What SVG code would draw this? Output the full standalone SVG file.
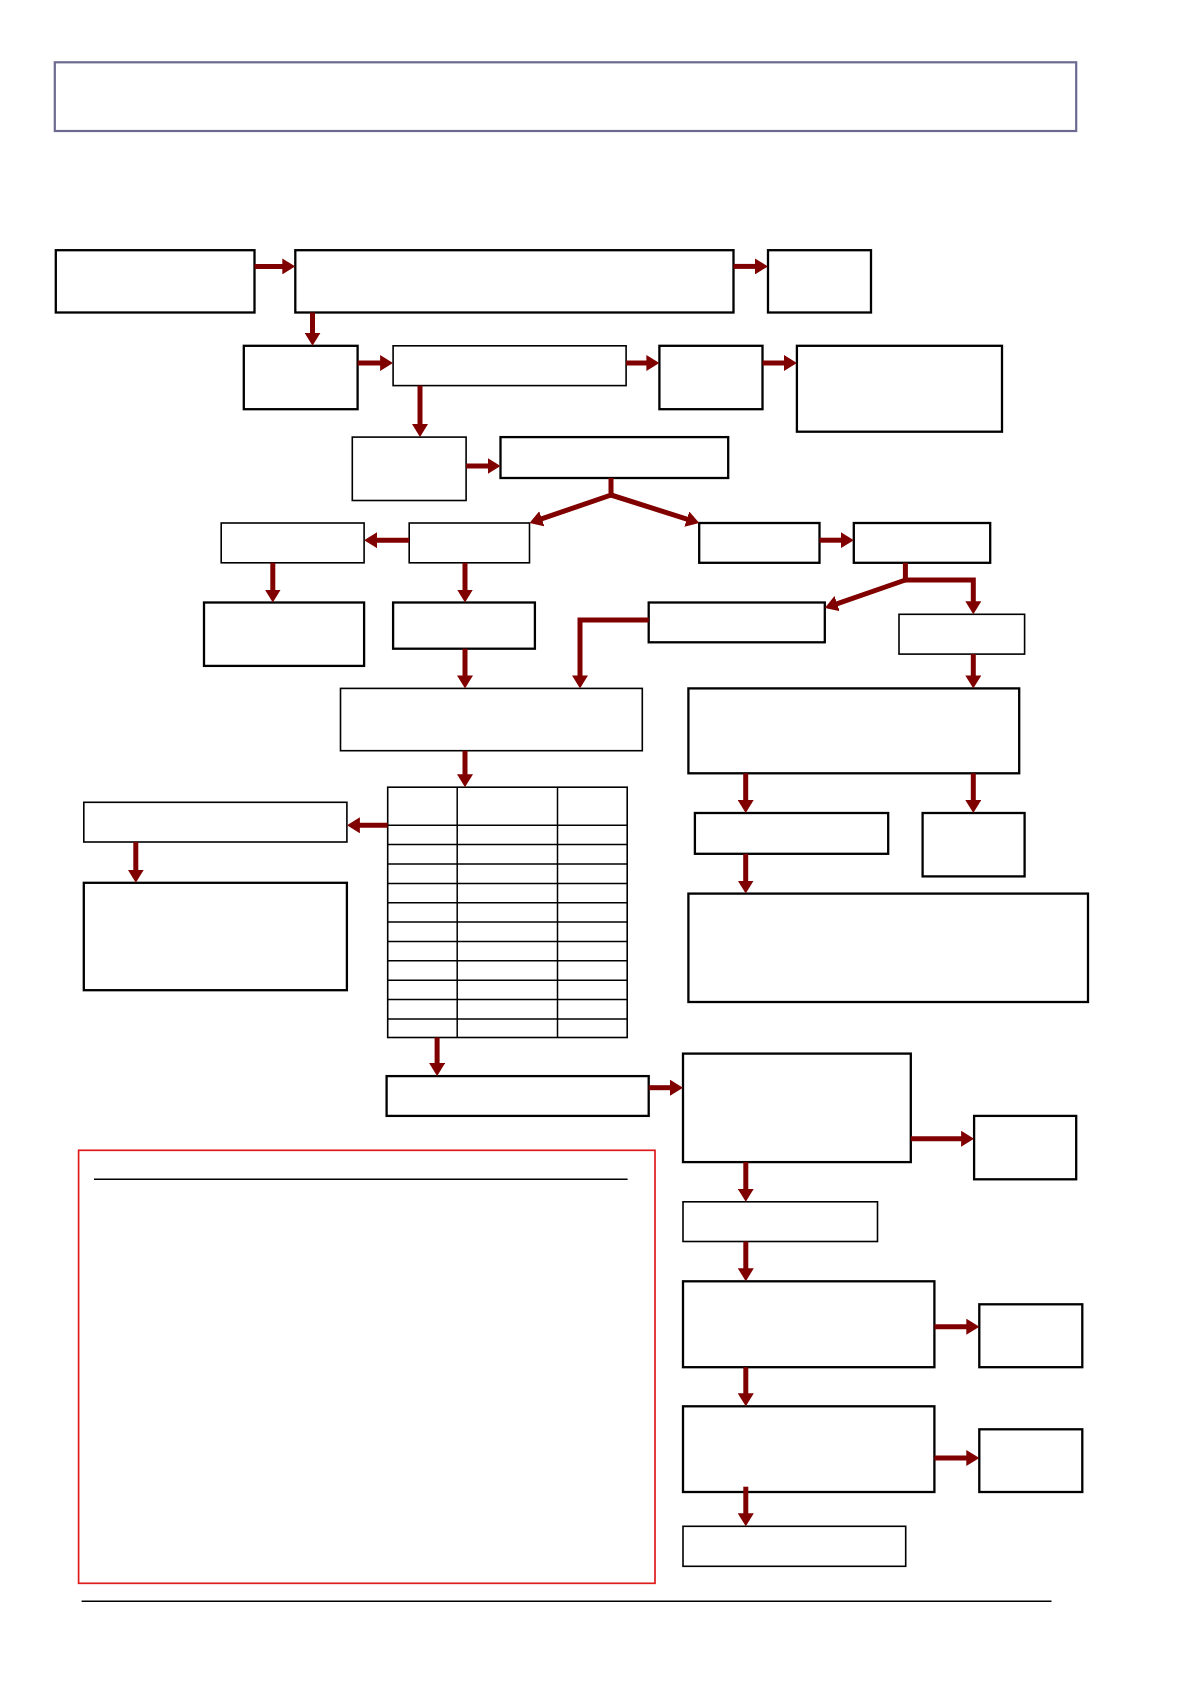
<svg xmlns="http://www.w3.org/2000/svg" width="1190" height="1684" viewBox="0 0 1190 1684">
<style>
.b{fill:#fff;stroke:#000;stroke-width:2.3}
.t{fill:#fff;stroke:#000;stroke-width:1.6}
.c{fill:none;stroke:#800000;stroke-width:5;marker-end:url(#ah)}
.tl{stroke:#000;stroke-width:1.5}
</style>
<defs>
<marker id="ah" markerUnits="userSpaceOnUse" markerWidth="13" markerHeight="16" refX="5" refY="8" orient="auto">
<path d="M0,0 L13,8 L0,16 z" fill="#800000"/>
</marker>
</defs>
<rect width="1190" height="1684" fill="#fff"/>
<g id="title"><rect x="54.8" y="62.3" width="1021.4" height="68.7" fill="#fff" stroke="#6c6a90" stroke-width="2.2"/></g>
<g id="A"><rect class="b" x="55.8" y="250.2" width="198.7" height="62.3"/></g>
<g id="B"><rect class="b" x="295.3" y="250.2" width="438.2" height="62.3"/></g>
<g id="C"><rect class="b" x="768" y="250.2" width="103" height="62.3"/></g>
<g id="D"><rect class="b" x="243.8" y="345.8" width="113.8" height="63.4"/></g>
<g id="E"><rect class="t" x="393.1" y="345.8" width="233" height="39.8"/></g>
<g id="F"><rect class="b" x="659.4" y="345.8" width="103.1" height="63.4"/></g>
<g id="G"><rect class="b" x="796.9" y="345.8" width="205.1" height="85.9"/></g>
<g id="H"><rect class="t" x="352.3" y="437.1" width="113.8" height="63.4"/></g>
<g id="I"><rect class="b" x="500.5" y="437.1" width="227.7" height="40.9"/></g>
<g id="J"><rect class="t" x="221.2" y="523" width="142.9" height="39.8"/></g>
<g id="K"><rect class="t" x="409.2" y="523" width="120.3" height="39.8"/></g>
<g id="L"><rect class="b" x="699.2" y="523" width="120.3" height="39.8"/></g>
<g id="M"><rect class="b" x="853.8" y="523" width="136.4" height="39.8"/></g>
<g id="N"><rect class="b" x="204" y="602.5" width="160.1" height="63.4"/></g>
<g id="O"><rect class="b" x="393.1" y="602.5" width="141.8" height="46.2"/></g>
<g id="P"><rect class="b" x="648.7" y="602.5" width="176.1" height="39.8"/></g>
<g id="Q"><rect class="t" x="899" y="614.3" width="125.6" height="39.8"/></g>
<g id="R"><rect class="t" x="340.5" y="688.4" width="301.8" height="62.3"/></g>
<g id="S"><rect class="b" x="688.4" y="688.4" width="330.8" height="84.9"/></g>
<g id="T"><rect class="b" x="694.9" y="813" width="193.3" height="40.8"/></g>
<g id="U"><rect class="b" x="922.6" y="813" width="102" height="63.4"/></g>
<g id="V"><rect class="b" x="688.4" y="893.6" width="399.6" height="108.4"/></g>
<g id="table">
<rect class="t" x="387.7" y="787.2" width="239.5" height="250.3"/>
<line class="tl" x1="457.2" y1="787.2" x2="457.2" y2="1037.5"/>
<line class="tl" x1="557.5" y1="787.2" x2="557.5" y2="1037.5"/>
<line class="tl" x1="387.7" y1="825.3" x2="627.2" y2="825.3"/>
<line class="tl" x1="387.7" y1="844.6" x2="627.2" y2="844.6"/>
<line class="tl" x1="387.7" y1="864" x2="627.2" y2="864"/>
<line class="tl" x1="387.7" y1="883.4" x2="627.2" y2="883.4"/>
<line class="tl" x1="387.7" y1="902.7" x2="627.2" y2="902.7"/>
<line class="tl" x1="387.7" y1="922.1" x2="627.2" y2="922.1"/>
<line class="tl" x1="387.7" y1="941.4" x2="627.2" y2="941.4"/>
<line class="tl" x1="387.7" y1="960.8" x2="627.2" y2="960.8"/>
<line class="tl" x1="387.7" y1="980.2" x2="627.2" y2="980.2"/>
<line class="tl" x1="387.7" y1="999.5" x2="627.2" y2="999.5"/>
<line class="tl" x1="387.7" y1="1018.9" x2="627.2" y2="1018.9"/>
</g>
<g id="W"><rect class="t" x="83.8" y="802.3" width="263.1" height="39.7"/></g>
<g id="X"><rect class="b" x="83.8" y="882.8" width="263.1" height="107.4"/></g>
<g id="Y"><rect class="b" x="386.6" y="1076.1" width="262.1" height="39.8"/></g>
<g id="Z"><rect class="b" x="683" y="1053.6" width="227.8" height="108.5"/></g>
<g id="AA"><rect class="b" x="974.1" y="1115.9" width="102.1" height="63.4"/></g>
<g id="AB"><rect class="t" x="683" y="1201.8" width="194.5" height="39.7"/></g>
<g id="AC"><rect class="b" x="683" y="1281.3" width="251.4" height="85.9"/></g>
<g id="AD"><rect class="b" x="979.3" y="1304.3" width="103" height="62.9"/></g>
<g id="AE"><rect class="b" x="683" y="1406.3" width="251.4" height="85.7"/></g>
<g id="AF"><rect class="b" x="979.3" y="1429.3" width="103" height="62.7"/></g>
<g id="AG"><rect class="t" x="683" y="1526.3" width="222.7" height="40"/></g>
<g id="notes">
<rect x="78.6" y="1150.3" width="576.4" height="433" fill="none" stroke="#e01b1b" stroke-width="1.7"/>
<line x1="94" y1="1179.3" x2="627.6" y2="1179.3" stroke="#000" stroke-width="1.4"/>
</g>
<g id="footer"><line x1="81.6" y1="1601.3" x2="1051.5" y2="1601.3" stroke="#000" stroke-width="1.4"/></g>
<g id="connectors">
<path class="c" d="M254.5,266.4 H287.3"/>
<path class="c" d="M733.5,266.4 H760"/>
<path class="c" d="M312.5,312.5 V337.8"/>
<path class="c" d="M357.6,363 H385.1"/>
<path class="c" d="M626.1,363 H651.4"/>
<path class="c" d="M762.5,363 H788.9"/>
<path class="c" d="M420,385.6 V429.1"/>
<path class="c" d="M466.1,466 H492.5"/>
<path class="c" d="M611,478 V495 L537.1,520.4"/>
<path class="c" d="M611,495 L691.6,520.6"/>
<path class="c" d="M409.2,540.2 H372.1"/>
<path class="c" d="M819.5,540.2 H845.8"/>
<path class="c" d="M272.8,562.8 V594.5"/>
<path class="c" d="M465,562.8 V594.5"/>
<path class="c" d="M905.4,562.8 V580 H973.3 V606.3"/>
<path class="c" d="M905.4,580 L832.4,605.3"/>
<path class="c" d="M648.7,620 H580 V680.4"/>
<path class="c" d="M465,648.7 V680.4"/>
<path class="c" d="M973.3,654.1 V680.4"/>
<path class="c" d="M465,750.7 V779.2"/>
<path class="c" d="M745.7,773.3 V805"/>
<path class="c" d="M973.3,773.3 V805"/>
<path class="c" d="M745.7,853.8 V885.6"/>
<path class="c" d="M387.7,825.3 H354.9"/>
<path class="c" d="M135.8,842 V874.8"/>
<path class="c" d="M437.1,1037.5 V1068.1"/>
<path class="c" d="M648.7,1087.7 H675"/>
<path class="c" d="M910.8,1138.7 H966.1"/>
<path class="c" d="M745.8,1162.1 V1193.8"/>
<path class="c" d="M745.8,1241.5 V1273.3"/>
<path class="c" d="M934.4,1326.7 H971.3"/>
<path class="c" d="M745.8,1367.2 V1398.3"/>
<path class="c" d="M934.4,1458 H971.3"/>
<path class="c" d="M745.8,1486.7 V1518.3"/>
</g>
</svg>
